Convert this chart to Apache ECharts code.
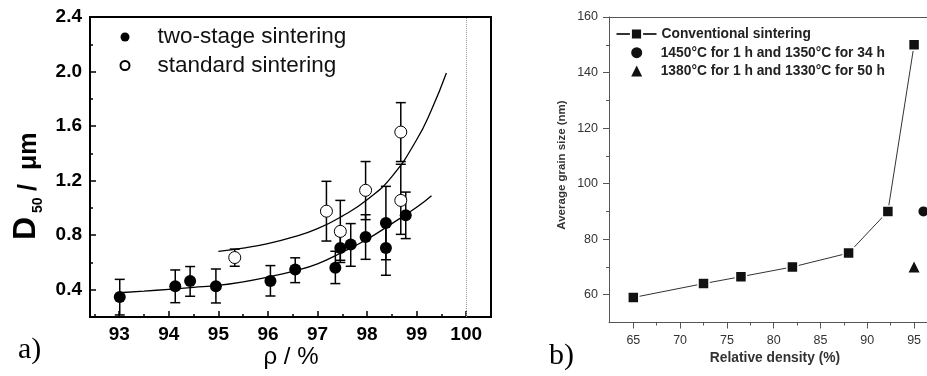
<!DOCTYPE html>
<html>
<head>
<meta charset="utf-8">
<script src="https://cdn.jsdelivr.net/npm/echarts@6/dist/echarts.min.js"></script>
<style>
  html, body { margin: 0; padding: 0; background: #fff; }
  #chart { width: 927px; height: 376px; }
</style>
</head>
<body>
<div id="chart"></div>
<script>
// ---------- Panel a) data ----------
const aXTicks = [93, 94, 95, 96, 97, 98, 99, 100];
const aXMinor = [92.5, 93.5, 94.5, 95.5, 96.5, 97.5, 98.5, 99.5];
const aYTicks = [0.4, 0.8, 1.2, 1.6, 2.0, 2.4];
const aYMinor = [0.6, 1.0, 1.4, 1.8, 2.2];

const twoX  = [93.01, 94.13, 94.43, 94.95, 96.05, 96.55, 97.36, 97.46, 97.67, 97.97, 98.38, 98.38, 98.78];
const twoY  = [0.347, 0.425, 0.464, 0.425, 0.464, 0.548, 0.562, 0.706, 0.731, 0.787, 0.889, 0.706, 0.946];
const twoLo = [0.215, 0.305, 0.352, 0.303, 0.354, 0.452, 0.445, 0.616, 0.572, 0.623, 0.620, 0.506, 0.775];
const twoHi = [0.476, 0.545, 0.570, 0.552, 0.577, 0.634, 0.682, 0.800, 0.885, 0.950, 1.158, 0.906, 1.116];

const stdX  = [95.33, 97.18, 97.46, 97.97, 98.68, 98.68];
const stdY  = [0.636, 0.976, 0.828, 1.129, 1.556, 1.055];
const stdLo = [0.572, 0.757, 0.600, 0.914, 1.340, 0.806];
const stdHi = [0.698, 1.195, 1.055, 1.340, 1.772, 1.320];

// fitted curves
const fitStdX = [95.0, 95.5, 96.0, 96.5, 97.0, 97.5, 98.0, 98.5, 99.0, 99.3, 99.6];
const fitStdY = [0.682, 0.705, 0.738, 0.785, 0.848, 0.94, 1.06, 1.23, 1.50, 1.72, 1.99];
const fitTwoX = [93.0, 93.5, 94.0, 94.5, 95.0, 95.5, 96.0, 96.5, 97.0, 97.5, 98.0, 98.5, 99.0, 99.3];
const fitTwoY = [0.378, 0.39, 0.403, 0.417, 0.432, 0.458, 0.493, 0.535, 0.59, 0.675, 0.77, 0.885, 1.005, 1.09];

// ---------- Panel b) data ----------
const bXTicks = [65, 70, 75, 80, 85, 90, 95];
const bXMinor = [67.5, 72.5, 77.5, 82.5, 87.5, 92.5];
const bYTicks = [60, 80, 100, 120, 140, 160];
const bYMinor = [70, 90, 110, 130, 150];

const convX = [65, 72.5, 76.5, 82, 88, 92.2, 95];
const convY = [59, 64, 66.5, 70, 75, 90, 150];
const s1450X = [96];
const s1450Y = [90];
const s1380X = [95];
const s1380Y = [70];

const zip = (a, b) => a.map((v, i) => [v, b[i]]);
const zip4 = (a, b, c, d) => a.map((v, i) => [v, b[i], c[i], d[i]]);

const FONT = '"Liberation Sans", Arial, sans-serif';

function renderErr(params, api) {
  const x = api.value(0), lo = api.value(2), hi = api.value(3);
  const pLo = api.coord([x, lo]);
  const pHi = api.coord([x, hi]);
  const hw = 5;
  const st = { stroke: '#000', lineWidth: 1.5 };
  return {
    type: 'group',
    children: [
      { type: 'line', shape: { x1: pLo[0], y1: pLo[1], x2: pHi[0], y2: pHi[1] }, style: st },
      { type: 'line', shape: { x1: pLo[0] - hw, y1: pLo[1], x2: pLo[0] + hw, y2: pLo[1] }, style: st },
      { type: 'line', shape: { x1: pHi[0] - hw, y1: pHi[1], x2: pHi[0] + hw, y2: pHi[1] }, style: st }
    ]
  };
}

const chart = echarts.init(document.getElementById('chart'), null, { renderer: 'canvas' });

const B_MIN = 62.4, B_MAX = 96.38;

const option = {
  animation: false,
  backgroundColor: '#fff',
  textStyle: { fontFamily: FONT },
  grid: [
    { left: 90, top: 17, width: 401, height: 300, show: true, borderColor: '#000', borderWidth: 2, backgroundColor: 'transparent' },
    { left: 609, top: 17, width: 318, height: 305.5, show: false }
  ],
  xAxis: [
    {
      gridIndex: 0, type: 'value', position: 'bottom', min: 92.41, max: 100.5,
      axisLine: { show: true, lineStyle: { color: '#000', width: 2 } }, splitLine: { show: false },
      axisTick: { show: true, inside: true, length: 6, lineStyle: { color: '#000', width: 1.5 }, customValues: aXTicks },
      axisLabel: { customValues: aXTicks, color: '#000', fontSize: 19, fontWeight: 'bold', fontFamily: FONT, margin: 8 }
    },
    {
      gridIndex: 0, type: 'value', position: 'bottom', min: 92.41, max: 100.5,
      axisLine: { show: false }, splitLine: { show: false },
      axisTick: { show: true, inside: true, length: 3, lineStyle: { color: '#000', width: 1.5 }, customValues: aXMinor },
      axisLabel: { show: false }
    },
    {
      gridIndex: 1, type: 'value', position: 'bottom', min: B_MIN, max: B_MAX,
      axisLine: { show: true, lineStyle: { color: '#555', width: 1 } }, splitLine: { show: false },
      axisTick: { show: true, inside: false, length: 6, lineStyle: { color: '#555', width: 1 }, customValues: bXTicks },
      axisLabel: { customValues: bXTicks, color: '#333', fontSize: 12.5, fontFamily: FONT, margin: 12 }
    },
    {
      gridIndex: 1, type: 'value', position: 'bottom', min: B_MIN, max: B_MAX,
      axisLine: { show: false }, splitLine: { show: false },
      axisTick: { show: true, inside: false, length: 3, lineStyle: { color: '#555', width: 1 }, customValues: bXMinor },
      axisLabel: { show: false }
    },
    {
      gridIndex: 1, type: 'value', position: 'top', min: B_MIN, max: B_MAX,
      axisLine: { show: true, lineStyle: { color: '#555', width: 1 } }, splitLine: { show: false },
      axisTick: { show: false }, axisLabel: { show: false }
    }
  ],
  yAxis: [
    {
      gridIndex: 0, type: 'value', position: 'left', min: 0.2, max: 2.4,
      axisLine: { show: true, lineStyle: { color: '#000', width: 2 } }, splitLine: { show: false },
      axisTick: { show: true, inside: true, length: 6, lineStyle: { color: '#000', width: 1.5 }, customValues: aYTicks },
      axisLabel: { customValues: aYTicks, color: '#000', fontSize: 19, fontWeight: 'bold', fontFamily: FONT, margin: 8,
                   formatter: v => Number(v).toFixed(1) }
    },
    {
      gridIndex: 0, type: 'value', position: 'left', min: 0.2, max: 2.4,
      axisLine: { show: false }, splitLine: { show: false },
      axisTick: { show: true, inside: true, length: 3, lineStyle: { color: '#000', width: 1.5 }, customValues: aYMinor },
      axisLabel: { show: false }
    },
    {
      gridIndex: 1, type: 'value', position: 'left', min: 50, max: 160,
      axisLine: { show: true, lineStyle: { color: '#555', width: 1 } }, splitLine: { show: false },
      axisTick: { show: true, inside: false, length: 6, lineStyle: { color: '#555', width: 1 }, customValues: bYTicks },
      axisLabel: { customValues: bYTicks, color: '#333', fontSize: 12.5, fontFamily: FONT, margin: 11 }
    },
    {
      gridIndex: 1, type: 'value', position: 'left', min: 50, max: 160,
      axisLine: { show: false }, splitLine: { show: false },
      axisTick: { show: true, inside: false, length: 3, lineStyle: { color: '#555', width: 1 }, customValues: bYMinor },
      axisLabel: { show: false }
    }
  ],
  legend: [
    {
      data: ['two-stage sintering', 'standard sintering'],
      orient: 'vertical', left: 119.5, top: 25.5, padding: 0,
      itemWidth: 9, itemHeight: 9, itemGap: 5.5,
      textStyle: { fontSize: 22.5, color: '#111', fontFamily: FONT, padding: [0, 0, 0, 23] }
    },
    {
      data: ['Conventional sintering'],
      orient: 'vertical', left: 615.5, top: 27, padding: 0,
      itemWidth: 40, itemHeight: 14, itemGap: 4.5,
      textStyle: { fontSize: 13.8, fontWeight: 'bold', color: '#222', fontFamily: FONT }
    },
    {
      data: ['1450°C for 1 h and 1350°C for 34 h', '1380°C for 1 h and 1330°C for 50 h'],
      orient: 'vertical', left: 631.2, top: 45.7, padding: 0,
      itemWidth: 11, itemHeight: 11, itemGap: 4.3,
      textStyle: { fontSize: 13.8, fontWeight: 'bold', color: '#222', fontFamily: FONT, padding: [0, 0, 0, 13.5] }
    }
  ],
  series: [
    {
      name: 'fitStd', type: 'line', xAxisIndex: 0, yAxisIndex: 0, data: zip(fitStdX, fitStdY),
      showSymbol: false, smooth: 0.5, z: 1,
      lineStyle: { color: '#000', width: 1.3 }, silent: true
    },
    {
      name: 'fitTwo', type: 'line', xAxisIndex: 0, yAxisIndex: 0, data: zip(fitTwoX, fitTwoY),
      showSymbol: false, smooth: 0.5, z: 1,
      lineStyle: { color: '#000', width: 1.3 }, silent: true,
      markLine: {
        silent: true, symbol: ['none', 'none'], label: { show: false },
        lineStyle: { color: '#999', type: 'dotted', width: 1 },
        data: [{ xAxis: 100 }]
      }
    },
    {
      name: 'errTwo', type: 'custom', xAxisIndex: 0, yAxisIndex: 0, z: 2,
      data: zip4(twoX, twoY, twoLo, twoHi), encode: { x: 0, y: 1 }, renderItem: renderErr
    },
    {
      name: 'errStd', type: 'custom', xAxisIndex: 0, yAxisIndex: 0, z: 2,
      data: zip4(stdX, stdY, stdLo, stdHi), encode: { x: 0, y: 1 }, renderItem: renderErr
    },
    {
      name: 'two-stage sintering', type: 'scatter', xAxisIndex: 0, yAxisIndex: 0, z: 3,
      data: zip(twoX, twoY), symbol: 'circle', symbolSize: 12,
      itemStyle: { color: '#000', opacity: 1 }
    },
    {
      name: 'standard sintering', type: 'scatter', xAxisIndex: 0, yAxisIndex: 0, z: 3,
      data: zip(stdX, stdY), symbol: 'circle', symbolSize: 12,
      itemStyle: { color: '#fff', borderColor: '#000', borderWidth: 1, opacity: 1 }
    },
    {
      name: 'Conventional sintering', type: 'line', xAxisIndex: 2, yAxisIndex: 2, z: 3,
      data: zip(convX, convY), symbol: 'rect', symbolSize: 11, showSymbol: true,
      itemStyle: { color: '#111', borderColor: '#fff', borderWidth: 1.5, opacity: 1 },
      lineStyle: { color: '#333', width: 1 }
    },
    {
      name: '1450°C for 1 h and 1350°C for 34 h', type: 'scatter', xAxisIndex: 2, yAxisIndex: 2, z: 3,
      data: zip(s1450X, s1450Y), symbol: 'circle', symbolSize: 10,
      itemStyle: { color: '#111', opacity: 1 }
    },
    {
      name: '1380°C for 1 h and 1330°C for 50 h', type: 'scatter', xAxisIndex: 2, yAxisIndex: 2, z: 3,
      data: zip(s1380X, s1380Y), symbol: 'triangle', symbolSize: 11,
      itemStyle: { color: '#111', opacity: 1 }
    }
  ],
  graphic: [
    {
      type: 'group', x: 37, y: 240, rotation: Math.PI / 2,
      children: [
        { type: 'text', style: { text: 'D', x: 0, y: -10.6, font: 'bold 32px ' + FONT, fill: '#000', align: 'left', verticalAlign: 'middle' } },
        { type: 'text', style: { text: '50', x: 27, y: 1.4, font: 'bold 14px ' + FONT, fill: '#000', align: 'left', verticalAlign: 'middle' } },
        { type: 'text', style: { text: '/', x: 49, y: -8.25, font: 'bold 25px ' + FONT, fill: '#000', align: 'left', verticalAlign: 'middle' } },
        { type: 'text', style: { text: 'μm', x: 70, y: -8.25, font: 'bold 25px ' + FONT, fill: '#000', align: 'left', verticalAlign: 'middle' } }
      ]
    },
    { type: 'text', style: { text: 'ρ / %', x: 291, y: 357, font: '24px ' + FONT, fill: '#000', align: 'center', verticalAlign: 'middle' } },
    { type: 'text', rotation: Math.PI / 2, x: 562, y: 165,
      style: { text: 'Average grain size (nm)', x: 0, y: 0, font: 'bold 11.5px ' + FONT, fill: '#333', align: 'center', verticalAlign: 'middle' } },
    { type: 'text', style: { text: 'Relative density (%)', x: 775, y: 358, font: 'bold 13.8px ' + FONT, fill: '#333', align: 'center', verticalAlign: 'middle' } },
    { type: 'text', style: { text: 'a)', x: 18, y: 350, font: '30px "Liberation Serif", "Times New Roman", serif', fill: '#000', align: 'left', verticalAlign: 'middle' } },
    { type: 'text', style: { text: 'b)', x: 549, y: 356, font: '30px "Liberation Serif", "Times New Roman", serif', fill: '#000', align: 'left', verticalAlign: 'middle' } }
  ]
};

chart.setOption(option);
</script>
</body>
</html>
